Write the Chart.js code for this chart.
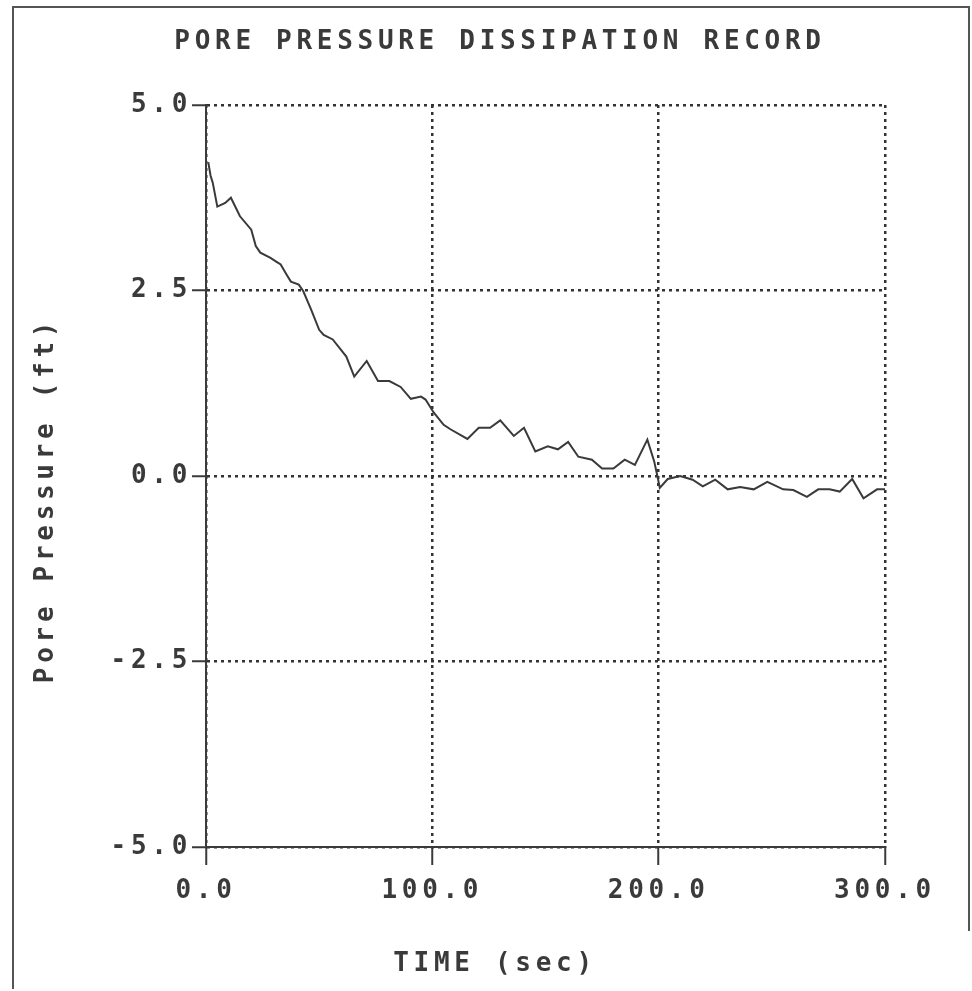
<!DOCTYPE html>
<html>
<head>
<meta charset="utf-8">
<title>Pore Pressure Dissipation Record</title>
<script src="https://cdn.jsdelivr.net/npm/chart.js@4.4.1/dist/chart.umd.min.js"></script>
<style>
    html, body { margin: 0; padding: 0; background: #fff; }
    canvas { display: block; }
</style>
</head>
<body>
<canvas id="dissipation" width="972" height="991"></canvas>
<script>
// Values
const timeSec = [1, 2, 3, 5, 8.5, 11, 15, 20, 22, 24, 28.5, 31, 33, 35.5, 37.5, 41, 43, 46.5, 50, 52,
    56, 62, 65.5, 71, 76, 81, 86, 90.5, 95, 97, 100.5, 105, 108, 115.5, 120.5, 125.5, 130, 136, 140.5, 145.5,
    151, 155.5, 160, 164.5, 170.5, 175, 180, 185, 189.5, 195, 198, 199.5, 200.5, 204, 209.5, 215, 219.5, 225,
    230.5, 236, 242, 248, 255, 259.5, 265.5, 270.5, 275.5, 280, 285.5, 290.5, 296.5, 300];
const porePressure = [4.23, 4.05, 3.95, 3.63, 3.68, 3.75, 3.50, 3.32, 3.10, 3.01, 2.94, 2.89, 2.85, 2.72, 2.62, 2.58, 2.49, 2.24, 1.97, 1.90,
    1.84, 1.61, 1.34, 1.55, 1.28, 1.28, 1.20, 1.04, 1.07, 1.03, 0.86, 0.69, 0.63, 0.50, 0.65, 0.65, 0.75, 0.54, 0.65, 0.33,
    0.40, 0.36, 0.46, 0.26, 0.22, 0.10, 0.10, 0.22, 0.15, 0.49, 0.20, -0.01, -0.16, -0.04, 0.0, -0.05, -0.14, -0.05,
    -0.18, -0.15, -0.18, -0.08, -0.18, -0.19, -0.28, -0.18, -0.18, -0.21, -0.04, -0.30, -0.18, -0.18];

const xTicks = [0, 100, 200, 300];
const yTicks = [-5, -2.5, 0, 2.5, 5];

const chartTitle = 'PORE PRESSURE DISSIPATION RECORD';
const xTitle = 'TIME (sec)';
const yTitle = 'Pore Pressure (ft)';

const ink = '#3a3a3a';
const fontSize = 26;
const letterGap = '4.7px';
const monoFont = 'bold ' + fontSize + 'px "DejaVu Sans Mono", monospace';

// The old plotter font is very wide, so space the letters out
const spacingPlugin = {
    id: 'spacing',
    beforeLayout(chart) { chart.ctx.letterSpacing = letterGap; },
    beforeDraw(chart) { chart.ctx.letterSpacing = letterGap; }
};

// Page frame and the titles (they sit off-centre from the plot in the original)
const framePlugin = {
    id: 'frame',
    beforeDraw(chart) {
        const ctx = chart.ctx;
        ctx.save();
        ctx.fillStyle = '#fff';
        ctx.fillRect(0, 0, chart.width, chart.height);
        ctx.strokeStyle = '#555';
        ctx.lineWidth = 2;
        ctx.beginPath();
        ctx.moveTo(13, chart.height - 2);
        ctx.lineTo(13, 7);
        ctx.lineTo(chart.width - 3, 7);
        ctx.lineTo(chart.width - 3, chart.height - 60);
        ctx.stroke();
        ctx.restore();
    },
    afterDraw(chart) {
        const ctx = chart.ctx;
        const area = chart.chartArea;
        ctx.save();
        ctx.letterSpacing = letterGap;
        ctx.font = monoFont;
        ctx.fillStyle = ink;
        ctx.textAlign = 'center';
        ctx.textBaseline = 'middle';
        ctx.fillText(chartTitle, 500, 42);
        ctx.fillText(xTitle, 495, area.bottom + 117);
        ctx.translate(46, (area.top + area.bottom) / 2 + 26);
        ctx.rotate(-Math.PI / 2);
        ctx.fillText(yTitle, 2, 0);
        ctx.restore();
    }
};

const gridStyle = {
    color: '#333',
    lineWidth: 2.5,
    tickColor: ink,
    tickWidth: 2,
    tickBorderDash: []
};

// in Chart.js v4 border.dash sets the dash of the grid lines, the axis line stays solid
const axisBorder = { display: true, color: ink, width: 2, dash: [3, 4] };

new Chart(document.getElementById('dissipation'), {
    type: 'line',
    data: {
        datasets: [{
            label: 'Pore Pressure',
            data: timeSec.map((t, i) => ({ x: t, y: porePressure[i] })),
            borderColor: ink,
            borderWidth: 2,
            pointRadius: 0,
            tension: 0,
            fill: false
        }]
    },
    options: {
        responsive: false,
        animation: false,
        devicePixelRatio: 1,
        layout: {
            padding: { top: 105, right: 87, left: 0, bottom: 0 }
        },
        plugins: {
            legend: { display: false },
            title: { display: false },
            tooltip: { enabled: false }
        },
        scales: {
            x: {
                type: 'linear',
                min: 0,
                max: 300,
                afterBuildTicks: (scale) => { scale.ticks = xTicks.map(v => ({ value: v })); },
                afterFit: (scale) => { scale.height = 144; },
                grid: Object.assign({}, gridStyle, { tickLength: 18 }),
                border: axisBorder,
                ticks: {
                    color: ink,
                    font: { family: '"DejaVu Sans Mono", monospace', size: fontSize, weight: 'bold' },
                    padding: 11,
                    maxRotation: 0,
                    callback: (v) => v.toFixed(1)
                }
            },
            y: {
                type: 'linear',
                min: -5,
                max: 5,
                afterBuildTicks: (scale) => { scale.ticks = yTicks.map(v => ({ value: v })); },
                afterFit: (scale) => { scale.width = 206; },
                grid: Object.assign({}, gridStyle, { tickLength: 14 }),
                border: axisBorder,
                ticks: {
                    color: ink,
                    font: { family: '"DejaVu Sans Mono", monospace', size: fontSize, weight: 'bold' },
                    padding: 0,
                    callback: (v) => v.toFixed(1)
                }
            }
        }
    },
    plugins: [spacingPlugin, framePlugin]
});
</script>
</body>
</html>
